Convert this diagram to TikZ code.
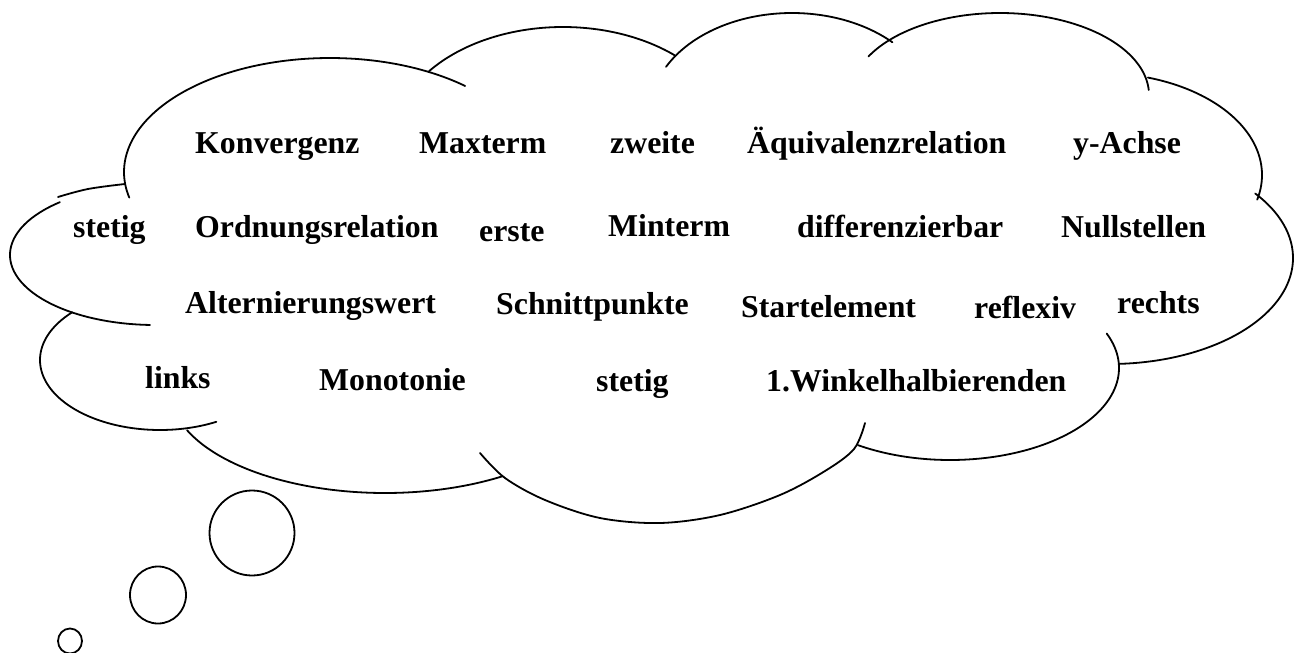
\documentclass[tikz,border=0pt]{standalone}
\usepackage{fontspec}
\setmainfont{Liberation Serif}
\tikzset{
  word/.style={anchor=base west, inner sep=0pt, font=\bfseries\fontsize{31.8}{38}\selectfont},
  outline/.style={line width=1.8pt, line join=round, line cap=round}
}
% one elliptical lobe of the cloud: centre x, centre y, x radius, y radius, start angle, end angle
\newcommand\cloudlobe[6]{%
  \draw[outline] plot[domain=#5:#6, samples=90, variable=\t]
    ({#1+#3*cos(\t)}, {#2-#4*sin(\t)});}
\begin{document}
\begin{tikzpicture}[x=1pt, y=-1pt]
\useasboundingbox (0,0) rectangle (1298,653);

% cloud outline
\cloudlobe{330}{172}{206}{114}{193}{49}
\cloudlobe{563}{142}{170}{115}{142}{49}
\cloudlobe{792}{113}{142}{100}{152.5}{45}
\cloudlobe{1000}{95}{149}{82}{152}{3.5}
\cloudlobe{1100}{175}{162}{102}{72.8}{-14}
\cloudlobe{1110}{258}{183}{106}{37.5}{-87}
\cloudlobe{950}{368}{169}{92}{22}{-123}
\draw[outline] plot[smooth, tension=0.55] coordinates {(865,423) (854,449) (825,471) (780,495) (720,515) (660,523) (600,518) (545,500) (505,478) (480,453)};
\cloudlobe{385}{390}{215}{103}{-57}{-157}
\cloudlobe{160}{360}{120}{70}{-62}{-223}
\cloudlobe{155}{255}{145}{70}{131}{268}
\draw[outline] plot[smooth, tension=0.6] coordinates {(58,197) (88,189) (125,184)};

% trailing thought bubbles
\draw[outline] (252,533) ellipse [x radius=42.5, y radius=42.5];
\draw[outline] (158,595) ellipse [x radius=28, y radius=28.5];
\draw[outline] (70,641) ellipse [x radius=12, y radius=12.5];

% words
\node[word] (konvergenz) at (195,153) {Konvergenz};
\node[word] (maxterm) at (419,153) {Maxterm};
\node[word] (zweite) at (610,153) {zweite};
\node[word] (aequivalenz) at (747,153) {Äquivalenzrelation};
\node[word] (yachse) at (1073,153) {y-Achse};

\node[word] (stetigA) at (73,237) {stetig};
\node[word] (ordnung) at (195,237) {Ordnungsrelation};
\node[word] (erste) at (479,241) {erste};
\node[word] (minterm) at (608,236) {Minterm};
\node[word] (diff) at (797,237) {differenzierbar};
\node[word] (null) at (1061,237) {Nullstellen};

\node[word] (altern) at (185,313) {Alternierungswert};
\node[word] (schnitt) at (496,314) {Schnittpunkte};
\node[word] (start) at (741,317) {Startelement};
\node[word] (reflexiv) at (974,318) {reflexiv};
\node[word] (rechts) at (1117,313) {rechts};

\node[word] (links) at (145,388) {links};
\node[word] (monotonie) at (319,390) {Monotonie};
\node[word] (stetigB) at (596,391) {stetig};
\node[word] (winkel) at (766,391) {1.Winkelhalbierenden};
\end{tikzpicture}
\end{document}
